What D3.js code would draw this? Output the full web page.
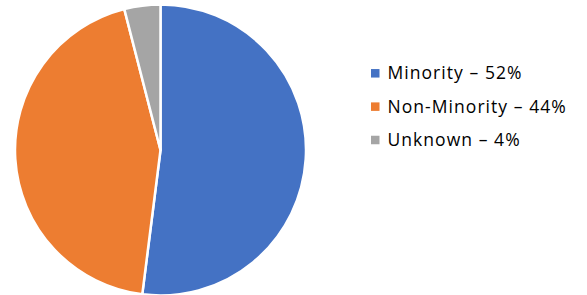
<!DOCTYPE html>
<html>
<head>
<meta charset="utf-8">
<script src="https://cdn.jsdelivr.net/npm/d3@7"></script>
<style>
  body { margin: 0; background: #fff; }
  text { font-family: "Open Sans", sans-serif; fill: #000; }
</style>
</head>
<body>
<svg id="chart" width="587" height="295"></svg>
<script>
const categories = ["Minority", "Non-Minority", "Unknown"];
const values = [52, 44, 4];
const colors = ["#4472C4", "#ED7D31", "#A5A5A5"];

const svg = d3.select("#chart");
const cx = 160.5, cy = 150, r = 145.5;

const pie = d3.pie().sort(null).value(d => d.value);
const arc = d3.arc().innerRadius(0).outerRadius(r);

const slices = pie(categories.map((c, i) => ({name: c, value: values[i]})));

svg.append("g")
  .attr("transform", `translate(${cx},${cy})`)
  .selectAll("path")
  .data(slices)
  .enter()
  .append("path")
  .attr("d", arc)
  .style("fill", (d, i) => colors[i])
  .style("stroke", "#fff")
  .style("stroke-width", 2.5)
  .style("stroke-linejoin", "round");

// legend
const ly = d3.scalePoint().domain(categories).range([73.3, 140]);

const legend = svg.append("g")
  .selectAll("g")
  .data(categories)
  .enter()
  .append("g")
  .attr("transform", d => `translate(371,${ly(d)})`);

legend.append("rect")
  .attr("x", 0)
  .attr("y", -4.25)
  .attr("width", 8.5)
  .attr("height", 8.5)
  .style("fill", (d, i) => colors[i]);

legend.append("text")
  .attr("x", 16.5)
  .attr("y", 5.9)
  .style("font-size", "17.5px")
  .style("letter-spacing", "1.05px")
  .text((d, i) => `${d} – ${values[i]}%`);
</script>
</body>
</html>
